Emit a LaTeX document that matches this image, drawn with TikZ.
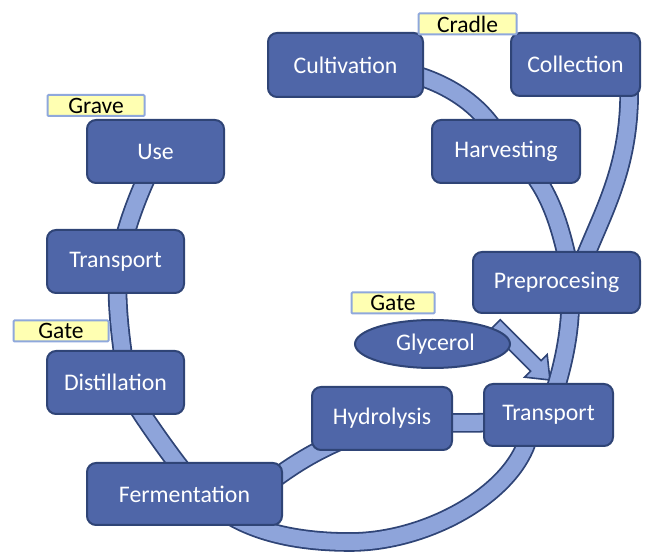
\documentclass[tikz,border=0pt]{standalone}
\usepackage{fontspec}
\setmainfont{Carlito}
\usetikzlibrary{calc,shapes.geometric}
\pgfdeclarelayer{back}
\pgfsetlayers{back,main}
\definecolor{boxfill}{RGB}{79,102,168}
\definecolor{boxline}{RGB}{47,68,118}
\definecolor{bandfill}{RGB}{142,164,218}
\definecolor{tagfill}{RGB}{255,255,178}
\definecolor{tagline}{RGB}{143,168,220}

\begin{document}
\begin{tikzpicture}[x=1pt,y=-1pt,
  stage/.style={rectangle, rounded corners=9pt, fill=boxfill, draw=boxline,
    line width=2pt, text=white, font=\fontsize{23.8}{27}\selectfont, inner sep=0pt},
  tag/.style={rectangle, rounded corners=1pt, fill=tagfill, draw=tagline,
    line width=2pt, text=black, font=\fontsize{23.5}{26}\selectfont, inner sep=0pt},
  band/.style={draw=boxline, line width=1.8pt, double=bandfill, double distance=16pt},
  feed/.style={fill=bandfill, draw=boxline, line width=1.6pt, line join=miter}]
\useasboundingbox (0,0) rectangle (649,553);

% process stages
\node[stage, minimum width=155pt, minimum height=64pt] (cult) at (345.5,65)   {Cultivation};
\node[stage, minimum width=129pt, minimum height=63pt] (coll) at (575.5,64.5) {Collection};
\node[stage, minimum width=148pt, minimum height=63pt] (harv) at (506,151.5)  {Harvesting};
\node[stage, minimum width=137pt, minimum height=63pt] (use)  at (155.5,151.5){Use};
\node[stage, minimum width=137pt, minimum height=63pt] (trl)  at (115.5,261.5){Transport};
\node[stage, minimum width=167pt, minimum height=61pt] (pre)  at (556.5,282.5){Preprocesing};
\node[stage, minimum width=137pt, minimum height=63pt] (dist) at (115.5,382.5){Distillation};
\node[stage, minimum width=140pt, minimum height=63pt] (hyd)  at (382,418.5)  {Hydrolysis};
\node[stage, minimum width=129pt, minimum height=62pt] (trr)  at (548.5,415)  {Transport};
\node[stage, minimum width=195pt, minimum height=62pt] (ferm) at (184.5,494)  {Fermentation};
\node[stage, ellipse, minimum width=155pt, minimum height=48pt] (gly) at (432.5,344)
  {\hspace*{6pt}Glycerol};

% boundary tags
\node[tag, minimum width=98pt, minimum height=21pt] (cradle) at (467.5,24)  {Cradle};
\node[tag, minimum width=97pt, minimum height=21pt] (grave)  at (96,105.5)  {Grave};
\node[tag, minimum width=95pt, minimum height=21pt] (gatel)  at (61,331)    {Gate};
\node[tag, minimum width=83pt, minimum height=21pt] (gater)  at (393,303)   {Gate};

% end points of the glycerol feed arrow
\coordinate (gtail) at (495,325);
\coordinate (gtip)  at (550,380);

\begin{pgfonlayer}{back}
  % glycerol feed arrow (block arrow)
  \coordinate (ghead) at ($(gtip)!20pt!(gtail)$);
  \draw[feed] ($(gtail)!7.5pt!90:(gtip)$) -- ($(ghead)!7.5pt!90:(gtip)$)
     -- ($(ghead)!16pt!90:(gtip)$) -- (gtip) -- ($(ghead)!16pt!-90:(gtip)$)
     -- ($(ghead)!7.5pt!-90:(gtip)$) -- ($(gtail)!7.5pt!-90:(gtip)$) -- cycle;

  % connecting bands (ends hidden under the stage boxes)
  \draw[band] (cult.center) .. controls (430,66) and (485,100) .. (harv.center);
  \draw[band] ($(harv)+(24,18.5)$) .. controls (555,200) and (563,240) .. ($(pre)+(13.5,-12.5)$);
  \draw[band] ($(coll)+(53.5,15.5)$) .. controls (632,170) and (600,215) .. ($(pre)+(21.5,-7.5)$);
  \draw[band] ($(pre)+(13.5,7.5)$) .. controls (572,330) and (562,370) .. ($(trr)+(3.5,-15)$);
  \draw[band] (hyd.center) .. controls (440,424) and (500,426) .. (trr.center);
  \draw[band] ($(trr)+(-18.5,15)$) .. controls (520,490) and (430,542) .. (350,542)
              .. controls (300,542) and (250,533) .. ($(ferm)+(30.5,11)$);
  \draw[band] ($(ferm)+(75.5,-4)$) .. controls (285,470) and (320,445) .. ($(hyd)+(-12,11.5)$);
  \draw[band] ($(ferm)+(5.5,-14)$) .. controls (170,455) and (145,420) .. ($(dist)+(14.5,12.5)$);
  \draw[band] ($(dist)+(9.5,-12.5)$) .. controls (121,340) and (116,305) .. ($(trl)+(2.5,13.5)$);
  \draw[band] ($(trl)+(6.5,-11.5)$) .. controls (126,225) and (142,185) .. ($(use)+(-0.5,8.5)$);
\end{pgfonlayer}
\end{tikzpicture}
\end{document}
